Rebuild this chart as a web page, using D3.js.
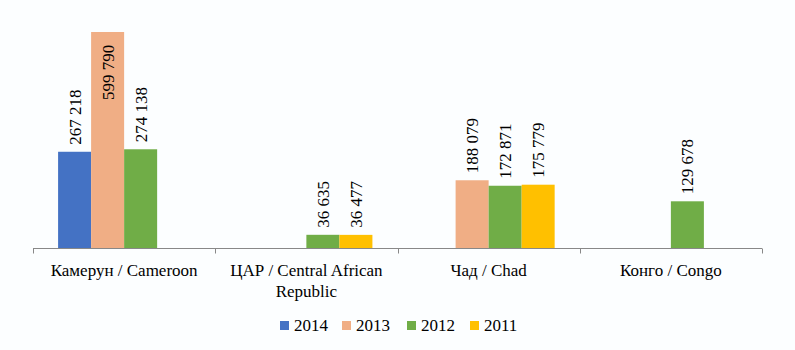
<!DOCTYPE html>
<html>
<head>
<meta charset="utf-8">
<script src="https://cdn.jsdelivr.net/npm/d3@7"></script>
<style>
  body { margin: 0; background: #fcfeff; }
</style>
</head>
<body>
<div id="chart"></div>
<script>
// categories and series
const categories = ["Камерун / Cameroon", "ЦАР / Central African Republic", "Чад / Chad", "Конго / Congo"];
const categoryLines = [["Камерун / Cameroon"], ["ЦАР / Central African", "Republic"], ["Чад / Chad"], ["Конго / Congo"]];
const years = ["2014", "2013", "2012", "2011"];
const colors = ["#4472c4", "#f0ae85", "#70ad47", "#ffc000"];

// values per year, one per category (null = no bar)
const v2014 = [267218, null, null, null];
const v2013 = [599790, null, 188079, null];
const v2012 = [274138, 36635, 172871, 129678];
const v2011 = [null, 36477, 175779, null];
const seriesValues = [v2014, v2013, v2012, v2011];

const FONT = "'Liberation Serif', 'Times New Roman', 'DejaVu Serif', serif";
const width = 795, height = 350;
const margin = { top: 32, right: 33, bottom: 102, left: 33 };

const svg = d3.select("#chart").append("svg")
    .attr("width", width)
    .attr("height", height)
    .style("display", "block")
    .attr("font-family", FONT);

svg.append("rect").attr("width", width).attr("height", height).attr("fill", "#fcfeff");

const x0 = d3.scaleBand()
    .domain(categories)
    .range([margin.left, width - margin.right])
    .padding(0);

const x1 = d3.scaleBand()
    .domain(years)
    .range([0, x0.bandwidth()])
    .paddingOuter(0.76)
    .paddingInner(0);

const y = d3.scaleLinear()
    .domain([0, 599790])
    .range([height - margin.bottom, margin.top]);

// flatten data
const rows = [];
categories.forEach((c, ci) => {
    years.forEach((yr, si) => {
        const v = seriesValues[si][ci];
        if (v != null) rows.push({ cat: c, year: yr, value: v, color: colors[si] });
    });
});

const fmt = v => d3.format(",")(v).replace(/,/g, " ");

svg.append("g").selectAll("rect")
    .data(rows)
    .enter().append("rect")
    .attr("x", d => x0(d.cat) + x1(d.year))
    .attr("y", d => y(d.value))
    .attr("width", x1.bandwidth())
    .attr("height", d => y(0) - y(d.value))
    .attr("fill", d => d.color);

// data labels: outside end, or inside end when no room above
const labelLen = 60;
svg.append("g").selectAll("text")
    .data(rows)
    .enter().append("text")
    .attr("transform", d => {
        const cx = x0(d.cat) + x1(d.year) + x1.bandwidth() / 2 + 6;
        const top = y(d.value);
        const inside = top - 7 - labelLen < 0;
        const ty = inside ? top + 8 + labelLen : top - 7;
        return `translate(${cx},${ty}) rotate(-90)`;
    })
    .attr("text-anchor", "start")
    .attr("font-family", FONT)
    .attr("font-size", 17)
    .attr("fill", "#000")
    .text(d => fmt(d.value));

// x axis
const axisY = y(0) + 0.5;
const axis = svg.append("g");
axis.append("line")
    .attr("x1", margin.left).attr("x2", width - margin.right)
    .attr("y1", axisY).attr("y2", axisY)
    .attr("stroke", "#888").attr("stroke-width", 1);

const tickX = categories.map(c => x0(c)).concat([x0.range()[1]]);
axis.selectAll("line.tick")
    .data(tickX)
    .enter().append("line")
    .attr("class", "tick")
    .attr("x1", d => Math.round(d) + 0.5).attr("x2", d => Math.round(d) + 0.5)
    .attr("y1", axisY).attr("y2", axisY + 5)
    .attr("stroke", "#888");

axis.selectAll("text.cat")
    .data(categories)
    .enter().append("text")
    .attr("class", "cat")
    .attr("x", d => x0(d) + x0.bandwidth() / 2)
    .attr("y", 276)
    .attr("text-anchor", "middle")
    .attr("font-family", FONT)
    .attr("font-size", 17)
    .attr("fill", "#000")
    .each(function(d, i) {
        const t = d3.select(this);
        categoryLines[i].forEach((line, li) => {
            t.append("tspan")
                .attr("x", x0(d) + x0.bandwidth() / 2)
                .attr("dy", li === 0 ? 0 : 21)
                .text(line);
        });
    });

// legend
const legendX = [280, 342, 407, 470];
const legend = svg.append("g");
const entries = legend.selectAll("g")
    .data(years)
    .enter().append("g")
    .attr("transform", (d, i) => `translate(${legendX[i]},331)`);

entries.append("rect")
    .attr("x", 0).attr("y", -10)
    .attr("width", 9).attr("height", 9)
    .attr("fill", (d, i) => colors[i]);

entries.append("text")
    .attr("x", 14).attr("y", 0)
    .attr("font-family", FONT)
    .attr("font-size", 17)
    .attr("fill", "#000")
    .text(d => d);
</script>
</body>
</html>
